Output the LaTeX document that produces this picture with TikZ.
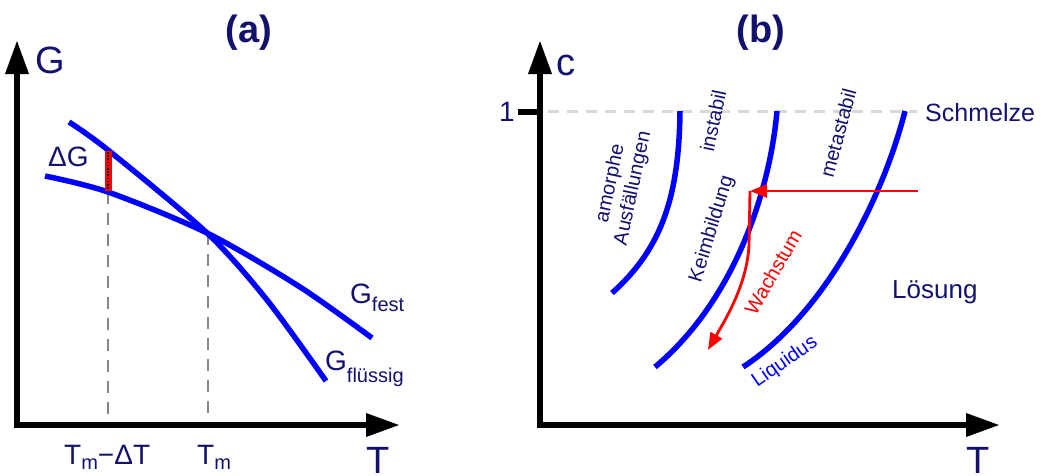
\documentclass[tikz,border=0pt]{standalone}
\usepackage{fontspec}
\setmainfont{Liberation Sans}
\usetikzlibrary{arrows.meta}
\definecolor{navy}{HTML}{12126E}
\definecolor{pblue}{HTML}{0000FF}
\definecolor{pred}{HTML}{FF0000}
\newcommand\lowsub[2]{\raisebox{-#1pt}{\fontsize{20}{20}\selectfont #2}}
\tikzset{
  axis/.style={line width=6.5pt, line join=miter, {Triangle[length=34pt,width=22pt]}-{Triangle[length=34pt,width=22pt]}},
  curve/.style={pblue, line width=5.5pt},
  lbl/.style={text=navy, inner sep=0pt},
  big/.style={font=\fontsize{38}{38}\selectfont},
  mid/.style={font=\fontsize{28}{28}\selectfont},
  title/.style={font=\fontsize{38}{38}\selectfont\bfseries},
  rlbl/.style={text=navy, inner sep=0pt, font=\fontsize{20}{23}\selectfont},
  guideA/.style={gray!95, line width=2.5pt, dash pattern=on 12pt off 9pt},
  guideB/.style={gray!30, line width=3pt, dash pattern=on 11pt off 8pt},
  redarrow/.style={pred, line width=2.8pt, -{Triangle[length=17pt,width=13pt]}}
}
\begin{document}
\begin{tikzpicture}[x=1pt,y=-1pt]
\useasboundingbox (0,0) rectangle (1043,475);
% ---------- panel (a)
\coordinate (aY) at (17,40);
\coordinate (aO) at (17,425);
\coordinate (aX) at (400,425);
\draw[guideA] (108,192) -- (108,422);
\draw[guideA] (208,233) -- (208,422);
\draw[axis] (aY) -- (aO) -- (aX);
\draw[curve] plot[smooth] coordinates {(45,176) (108,192) (207,233) (300,287) (372,338)};
\draw[curve] plot[smooth] coordinates {(69,122) (108,150) (207,233) (267,300) (326,381)};
\draw[pred, line width=7pt] (108,151) -- (108,191);
\draw[black, line width=2pt, dash pattern=on 1.6pt off 1.6pt] (108,152) -- (108,190);
\node[lbl, big, anchor=base west] (Ga) at (35,73) {G};
\node[lbl, title] (ta) at (249,33) {(a)};
\node[lbl, mid, anchor=base west] (dG) at (48,166) {ΔG};
\node[lbl, mid, anchor=base west] (Gfest) at (350,303) {G\lowsub{8}{fest}};
\node[lbl, mid, anchor=base west] (Gfl) at (325,370) {G\lowsub{12}{flüssig}};
\node[lbl, mid, anchor=base west] (Tmd) at (64,464) {T\lowsub{5}{m}−ΔT};
\node[lbl, mid, anchor=base west] (Tm) at (197,464) {T\lowsub{5}{m}};
\node[lbl, big, anchor=base west] (Ta) at (366,473) {T};
% ---------- panel (b)
\coordinate (bY) at (540,40);
\coordinate (bO) at (540,425);
\coordinate (bX) at (1000,425);
\coordinate (t1) at (518,112);
\coordinate (t2) at (540,112);
\draw[guideB] (548,111) -- (917,111);
\draw[axis] (bY) -- (bO) -- (bX);
\draw[line width=6pt] (t1) -- (t2);
\node[lbl, mid] (one) at (507,112) {1};
\node[lbl, big, anchor=base west] (cb) at (556,75) {c};
\node[lbl, title] (tb) at (761,33) {(b)};
\node[lbl, font=\fontsize{25}{25}\selectfont, anchor=base west] (schm) at (925,121) {Schmelze};
\node[lbl, font=\fontsize{26}{26}\selectfont, anchor=base west] (loes) at (892,298) {Lösung};
\node[lbl, big, anchor=base west] (Tb) at (966,473) {T};
\draw[curve] (680,111) .. controls (679,200) and (660,250) .. (612,293);
\draw[curve] (777,111) .. controls (770,190) and (735,300) .. (655,367);
\draw[curve] (905,111) .. controls (885,190) and (830,310) .. (743,367);
\coordinate (rs) at (918,191);
\coordinate (rc) at (750,191);
\coordinate (rv) at (749,245);
\coordinate (rt) at (708,350);
\draw[redarrow] (rs) -- (rc);
\draw[redarrow] (rc) -- (rv) .. controls (747,285) and (725,320) .. (rt);
\node[rlbl, rotate=78, align=center] (amorph) at (622,186) {amorphe\\Ausfällungen};
\node[rlbl, rotate=78] (insta) at (713,121) {instabil};
\node[rlbl, rotate=73] (keim) at (712,229) {Keimbildung};
\node[rlbl, rotate=75] (meta) at (838,133) {metastabil};
\node[rlbl, text=pred, rotate=60] (wachs) at (773,272) {Wachstum};
\node[rlbl, text=pblue, rotate=35] (liq) at (785,362) {Liquidus};
\end{tikzpicture}
\end{document}
